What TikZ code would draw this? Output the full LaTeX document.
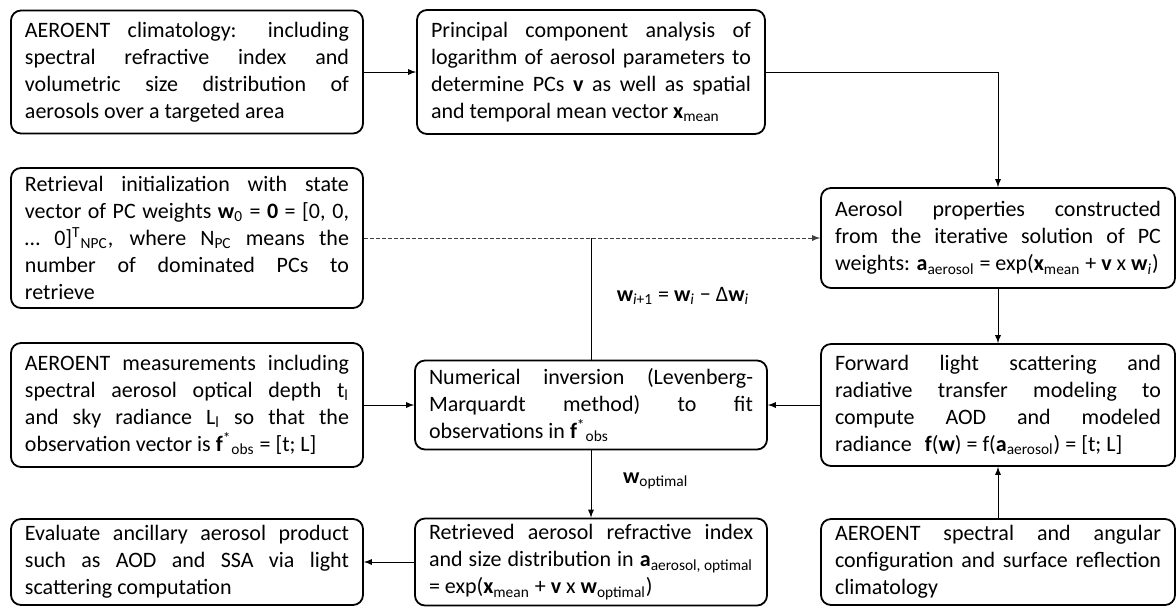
\documentclass[tikz,border=0pt]{standalone}
\usepackage{fontspec}
\setmainfont{Carlito}
\usetikzlibrary{calc}
\tolerance=10000
\hyphenpenalty=10000
\tikzset{
	box/.style={
		draw,
		rounded corners=5pt,
		line width=0.9pt,
		align=justify,
		text width=#1,
		inner xsep=7pt,
		inner ysep=2pt,
		font=\fontsize{11}{13.5}\selectfont,
	},
	box/.default=162pt,
	edge/.style={
		line width=.4pt,
		-latex,
	},
	wlabel/.style={
		font=\fontsize{11}{13.5}\selectfont,
	}
}

\begin{document}
\begin{tikzpicture}[x=0.5pt,y=-0.5pt]
	\useasboundingbox (0,0) rectangle (1176,607);

	\node[box, minimum height=61.5pt] (clim) at (187,72) {AEROENT climatology: including\linebreak spectral refractive index and\linebreak volumetric size distribution of\linebreak aerosols over a targeted area};
	\node[box=160pt, minimum height=62pt] (pca) at (591,72) {Principal component analysis of\linebreak logarithm of aerosol parameters to\linebreak determine PCs \textbf{v} as well as spatial\linebreak and temporal mean vector \textbf{x}\textsubscript{mean}};
	\node[box, minimum height=70pt] (init) at (187,238) {Retrieval initialization with state\linebreak vector of PC weights \textbf{w}\textsubscript{0} = \textbf{0} = [0, 0,\linebreak … 0]\textsuperscript{T}\textsubscript{NPC}, where N\textsubscript{PC} means the\linebreak number of dominated PCs to\linebreak retrieve};
	\node[box, minimum height=62pt] (meas) at (187,405) {AEROENT measurements including\linebreak spectral aerosol optical depth t\textsubscript{l}\linebreak and sky radiance L\textsubscript{l} so that the\linebreak observation vector is \textbf{f}\textsuperscript{*}\textsubscript{obs} = [t; L]};
	\node[box, minimum height=43pt] (anc) at (187,562) {Evaluate ancillary aerosol product\linebreak such as AOD and SSA via light\linebreak scattering computation};

	\node[box, minimum height=44.5pt] (inv) at (591,405) {Numerical inversion (Levenberg-\linebreak Marquardt method) to fit\linebreak observations in \textbf{f}\textsuperscript{*}\textsubscript{obs}};
	\node[box, minimum height=43.5pt] (retr) at (591,562) {Retrieved aerosol refractive index\linebreak and size distribution in \textbf{a}\textsubscript{aerosol, optimal}\linebreak = exp(\textbf{x}\textsubscript{mean} + \textbf{v} x \textbf{w}\textsubscript{optimal})};

	\node[box=163pt, minimum height=50pt] (props) at (998,238) {Aerosol properties constructed\linebreak from the iterative solution of PC\linebreak weights: \textbf{a}\textsubscript{aerosol} = exp(\textbf{x}\textsubscript{mean} + \textbf{v} x \textbf{w}\textsubscript{\textit{i}})};
	\node[box=163pt, minimum height=61pt] (fwd) at (998,405) {Forward light scattering and\linebreak radiative transfer modeling to\linebreak compute AOD and modeled\linebreak \mbox{radiance\hspace{0.6em}\textbf{f}(\textbf{w}) = f(\textbf{a}\textsubscript{aerosol}) = [t; L]}};
	\node[box=163pt, minimum height=43pt] (config) at (998,562) {AEROENT spectral and angular\linebreak configuration and surface reflection\linebreak climatology};

	\node[wlabel] (update) at (683,296) {\textbf{w}\textsubscript{\textit{i}+1} = \textbf{w}\textsubscript{\textit{i}} − Δ\textbf{w}\textsubscript{\textit{i}}};
	\node[wlabel, anchor=west] (wopt) at (616,481) {\textbf{w}\textsubscript{optimal}};

	\draw[edge] (clim) -- (pca);
	\draw[edge] (pca.east) -| (props.north);
	\draw[edge, dashed, dash pattern=on 2pt off 1pt, black!75] (init) -- (props);
	\draw[line width=.4pt] (inv.north) -- (inv.north |- init.east);
	\draw[edge] (meas) -- (inv);
	\draw[edge] (fwd) -- (inv);
	\draw[edge] (props) -- (fwd);
	\draw[edge] (config) -- (fwd);
	\draw[edge] (inv) -- (retr);
	\draw[edge] (retr) -- (anc);

\end{tikzpicture}
\end{document}
